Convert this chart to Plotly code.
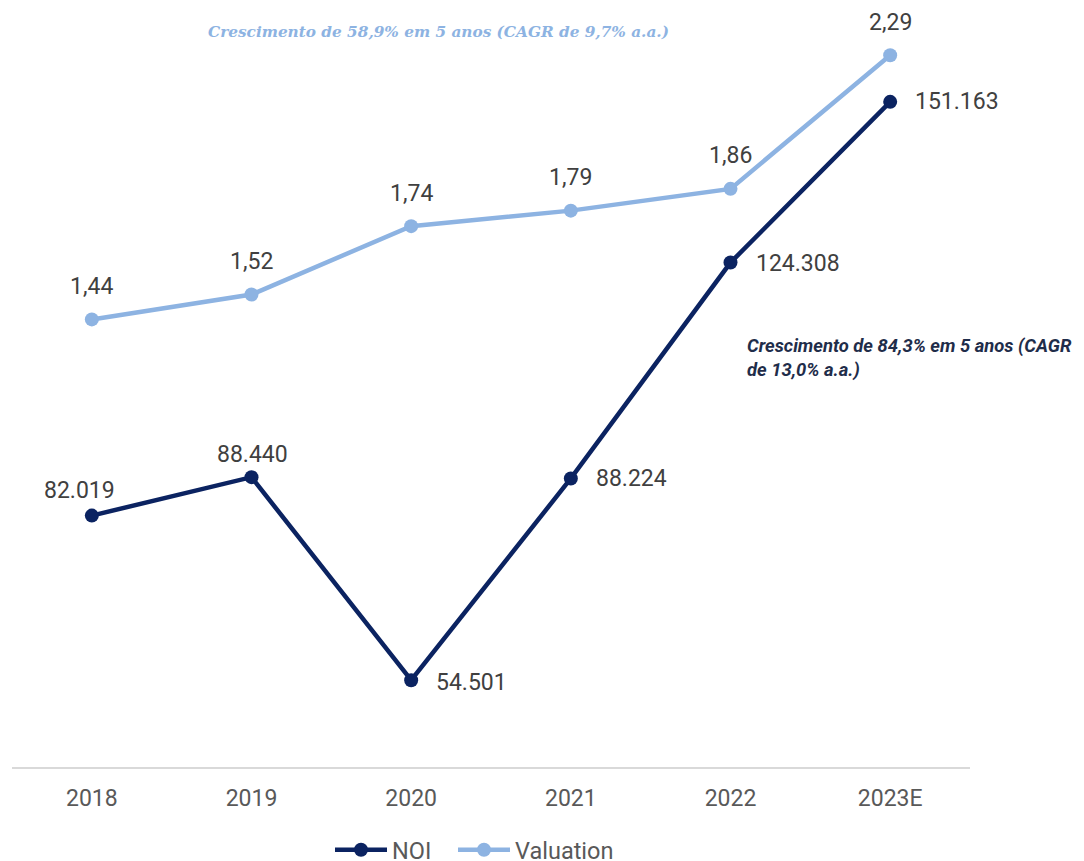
import plotly.graph_objects as go

years = ["2018", "2019", "2020", "2021", "2022", "2023E"]
noi = [82019, 88440, 54501, 88224, 124308, 151163]
noi_labels = ["82.019", "88.440", "54.501", "88.224", "124.308", "151.163"]
valuation = [1.44, 1.52, 1.74, 1.79, 1.86, 2.29]
val_labels = ["1,44", "1,52", "1,74", "1,79", "1,86", "2,29"]

NAVY = "#0B2361"
LIGHT = "#8DB3E2"
GREY = "#595959"
LABEL = "#404040"

# label placement (anchor, xshift, yshift) per NOI point
noi_place = [("center", -12, 25), ("center", 1, 23), ("left", 23, -2),
             ("left", 23, 0), ("left", 23, -1), ("left", 23, 0)]

fig = go.Figure()
fig.add_trace(go.Scatter(
    x=years, y=noi, name="NOI", mode="lines+markers",
    line=dict(color=NAVY, width=4.5), marker=dict(size=14, color=NAVY),
    yaxis="y", cliponaxis=False, legend="legend",
))
fig.add_trace(go.Scatter(
    x=years, y=valuation, name="Valuation", mode="lines+markers",
    line=dict(color=LIGHT, width=4.5), marker=dict(size=14, color=LIGHT),
    yaxis="y2", cliponaxis=False, legend="legend2",
))

annotations = []
for i, (y, t, (anc, dx, dy)) in enumerate(zip(noi, noi_labels, noi_place)):
    annotations.append(dict(x=i, y=y, xref="x", yref="y", text=t, showarrow=False,
                            xanchor=anc, yanchor="middle", xshift=dx, yshift=dy,
                            font=dict(family="Roboto", size=23, color=LABEL)))
for i, (y, t) in enumerate(zip(valuation, val_labels)):
    annotations.append(dict(x=i, y=y, xref="x", yref="y2", text=t, showarrow=False,
                            xanchor="center", yanchor="middle", yshift=33,
                            font=dict(family="Roboto", size=23, color=LABEL)))

annotations += [
    dict(text="<b><i>Crescimento de 58,9% em 5 anos (CAGR de 9,7% a.a.)</i></b>",
         xref="paper", yref="paper", x=(206 - 12) / 958, y=1 + (49 - 32) / 718,
         xanchor="left", yanchor="middle", showarrow=False,
         font=dict(family="DejaVu Serif", size=15.3, color=LIGHT)),
    dict(text="<b><i>Crescimento de 84,3% em 5 anos (CAGR<br>de 13,0% a.a.)</i></b>",
         xref="paper", yref="paper", x=(745 - 12) / 958, y=1 - (333 - 49) / 718,
         xanchor="left", yanchor="top", align="left", showarrow=False,
         font=dict(family="Roboto", size=18.4, color="#1F2D4A")),
]

leg_common = dict(orientation="h", xref="container", xanchor="left",
                  yref="container", y=1 - 820 / 861, yanchor="top", itemwidth=52,
                  font=dict(size=23.5, color=GREY), bgcolor="rgba(0,0,0,0)")

fig.update_layout(
    width=1084, height=861,
    margin=dict(l=4, r=122, t=41, b=102, autoexpand=False),
    plot_bgcolor="white", paper_bgcolor="white",
    font=dict(family="Roboto", color=GREY),
    xaxis=dict(type="category", range=[-0.5, 5.5], showgrid=False, showline=True,
               linecolor="#D9D9D9", linewidth=1.5, automargin=False,
               tickfont=dict(size=23, color=GREY), ticks="", ticklabelstandoff=10),
    yaxis=dict(range=[40000, 160000], visible=False),
    yaxis2=dict(range=[0, 2.31], visible=False, overlaying="y", side="right"),
    legend=dict(x=322 / 1084, **leg_common),
    legend2=dict(x=445 / 1084, **leg_common),
    showlegend=True,
    annotations=annotations,
)

fig.write_html("out.html")
